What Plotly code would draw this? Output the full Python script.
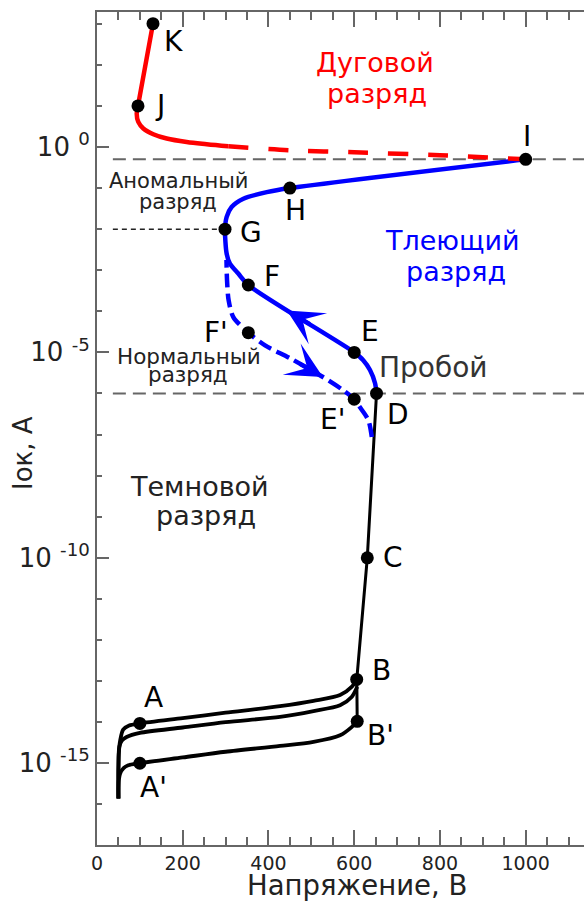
import plotly.graph_objects as go

# ---------------- data (voltage in V, current as log10 exponent) ----------------
dark_upper_v = [50, 50, 51, 54, 61, 75, 100, 200, 300, 427, 505, 567, 594, 606]
dark_upper_e = [-15.86, -15.2, -14.75, -14.45, -14.18, -14.08, -14.03, -13.9, -13.77, -13.61, -13.48, -13.34, -13.14, -12.96]
dark_mid_v = [50, 50, 52, 58, 69, 100, 200, 300, 427, 505, 567, 594, 607]
dark_mid_e = [-15.86, -15.1, -14.6, -14.45, -14.36, -14.26, -14.13, -14.0, -13.87, -13.73, -13.59, -13.39, -13.14]
dark_low_v = [50, 50, 51, 54, 62, 73, 100, 200, 300, 427, 505, 567, 594, 607]
dark_low_e = [-15.86, -15.6, -15.4, -15.25, -15.12, -15.05, -15.0, -14.86, -14.72, -14.58, -14.48, -14.32, -14.12, -13.98]
rise_v = [607, 606, 630.5, 652]
rise_e = [-13.98, -12.96, -10.0, -6.0]

glow_v = [652, 648.6, 636.8, 621, 600, 353, 329.6, 310, 302.5, 298.6, 302.5, 314, 341.5, 396, 450, 1000]
glow_e = [-6.0, -5.75, -5.43, -5.19, -5.0, -3.36, -3.08, -2.84, -2.6, -2.0, -1.7, -1.46, -1.26, -1.1, -1.0, -0.3]
glow_back_v = [641, 633, 613, 600, 574, 527, 450, 392, 353, 318, 307, 303.3, 302]
glow_back_e = [-7.06, -6.65, -6.33, -6.14, -5.92, -5.6, -5.14, -4.83, -4.52, -4.14, -3.73, -3.24, -2.75]

arc_v = [130.6, 95.6, 92.6, 96.3, 108, 131.3, 162.6, 209.2, 255.9, 306.3]
arc_e = [3.0, 1.0, 0.81, 0.61, 0.45, 0.31, 0.205, 0.12, 0.066, 0.017]
arc_dash_v = [306.3, 450, 600, 800, 1000]
arc_dash_e = [0.017, -0.08, -0.13, -0.2, -0.3]

point_labels = ["K", "J", "I", "H", "G", "F", "E", "D", "E'", "F'", "C", "B", "B'", "A", "A'"]
point_v = [130.6, 95.6, 1000, 450, 298.6, 353, 600, 652, 600, 353, 630.5, 605.8, 607, 100, 100]
point_e = [3.0, 1.0, -0.3, -1.0, -2.0, -3.36, -5.0, -6.0, -6.14, -4.52, -10.0, -12.96, -13.98, -14.03, -15.0]

level_breakdown_e = -6.0
level_arc_e = -0.3
level_abnormal_e = -2.0

y_tick_exps = [-15, -10, -5, 0]
y_tick_text = ["10 <sup>-15</sup>", "10 <sup>-10</sup>", "10 <sup>-5</sup>", "10 <sup>0</sup>"]


def cur(es):
    return [10.0 ** e for e in es]


FONT = "DejaVu Sans"
BLUE = "#0000ff"
RED = "#ff0000"
GRAY = "#666666"

fig = go.Figure()

# guide lines
for lev in (level_arc_e, level_breakdown_e):
    fig.add_trace(go.Scatter(x=[37, 1136], y=cur([lev, lev]), mode="lines",
                             line=dict(color=GRAY, width=2, dash="13px,7px"), hoverinfo="skip"))
fig.add_trace(go.Scatter(x=[37, 298.6], y=cur([level_abnormal_e, level_abnormal_e]), mode="lines",
                         line=dict(color="#222222", width=1.5, dash="5px,4px"), hoverinfo="skip"))

# dark discharge
for vv, ee in ((dark_upper_v, dark_upper_e), (dark_mid_v, dark_mid_e), (dark_low_v, dark_low_e)):
    fig.add_trace(go.Scatter(x=vv, y=cur(ee), mode="lines",
                             line=dict(color="black", width=3.8, shape="spline", smoothing=0.8)))
fig.add_trace(go.Scatter(x=rise_v, y=cur(rise_e), mode="lines", line=dict(color="black", width=3)))

# glow discharge
fig.add_trace(go.Scatter(x=glow_back_v, y=cur(glow_back_e), mode="lines",
                         line=dict(color=BLUE, width=4.5, dash="14px,6px", shape="spline", smoothing=0.8)))
fig.add_trace(go.Scatter(x=glow_v, y=cur(glow_e), mode="lines",
                         line=dict(color=BLUE, width=4.5, shape="spline", smoothing=0.8)))

# arc discharge
fig.add_trace(go.Scatter(x=arc_v, y=cur(arc_e), mode="lines",
                         line=dict(color=RED, width=4.5, shape="spline", smoothing=1.0)))
fig.add_trace(go.Scatter(x=arc_dash_v, y=cur(arc_dash_e), mode="lines",
                         line=dict(color=RED, width=4.5, dash="20px,20px", shape="spline", smoothing=0.8)))

# points
fig.add_trace(go.Scatter(x=point_v, y=cur(point_e), mode="markers",
                         marker=dict(color="black", size=13)))

# point labels (pixel offsets)
offsets = {"K": (21, -18), "J": (22, 0), "I": (1, 23), "H": (6, -22), "G": (26, -3), "F": (24, 9),
           "E": (16, 21), "D": (21, -21), "E'": (-22, -20), "F'": (-32, 0), "C": (26, 0),
           "B": (25, 9), "B'": (23, -14), "A": (14, 26), "A'": (14, -24)}
for lab, v, e in zip(point_labels, point_v, point_e):
    dx, dy = offsets[lab]
    fig.add_annotation(x=v, y=e, text=lab, showarrow=False, xshift=dx, yshift=dy,
                       font=dict(size=28, color="black", family=FONT))

# arrows on glow curves
fig.add_annotation(x=443, y=-3.98, ax=500, ay=-4.33, axref="x", ayref="y", xref="x", yref="y",
                   text="", showarrow=True, arrowhead=3, arrowsize=1.5, arrowwidth=4, arrowcolor=BLUE)
fig.add_annotation(x=527, y=-5.6, ax=470, ay=-5.26, axref="x", ayref="y", xref="x", yref="y",
                   text="", showarrow=True, arrowhead=3, arrowsize=1.5, arrowwidth=4, arrowcolor=BLUE)

# region labels
regions = [
    ("Дуговой", 648.5, 2.06, 27, RED), ("разряд", 653, 1.31, 27, RED),
    ("Тлеющий", 830, -2.27, 27, BLUE), ("разряд", 837, -3.03, 27, BLUE),
    ("Аномальный", 189, -0.83, 21, "#222222"), ("разряд", 189, -1.35, 21, "#222222"),
    ("Нормальный", 214.6, -5.09, 21.5, "#222222"), ("разряд", 212, -5.55, 21.5, "#222222"),
    ("Пробой", 784, -5.36, 28, "#333333"),
    ("Темновой", 238, -8.26, 27, "#222222"), ("разряд", 254, -8.96, 27, "#222222"),
]
for txt, v, e, sz, col in regions:
    fig.add_annotation(x=v, y=e, text=txt, showarrow=False,
                       font=dict(size=sz, color=col, family=FONT))

# axis titles
fig.add_annotation(xref="paper", yref="paper", x=0.534, y=-0.048, xanchor="center", yanchor="middle",
                   text="Напряжение, В", showarrow=False,
                   font=dict(size=27.5, color="#222222", family=FONT))
fig.add_annotation(xref="paper", yref="paper", x=-0.152, y=0.4706, xanchor="center", yanchor="middle",
                   text="Iок, А", textangle=-90, showarrow=False,
                   font=dict(size=26, color="#222222", family=FONT))

fig.update_layout(
    width=584, height=904,
    margin=dict(l=97, r=0, t=12, b=59, autoexpand=False),
    paper_bgcolor="white", plot_bgcolor="white",
    showlegend=False,
    font=dict(family=FONT, color="#222222"),
    xaxis=dict(range=[0, 1136], showgrid=False, zeroline=False, showline=True,
               linecolor=GRAY, linewidth=2, mirror="ticks",
               ticks="inside", ticklen=15, tickwidth=2, tickcolor=GRAY,
               tick0=0, dtick=200, tickfont=dict(size=19, color="#222222"),
               minor=dict(dtick=50, tick0=0, ticks="inside", ticklen=8, tickwidth=2, tickcolor=GRAY),
               automargin=False),
    yaxis=dict(type="log", range=[-16.99, 3.285], showgrid=False, zeroline=False, showline=True,
               linecolor=GRAY, linewidth=2,
               ticks="inside", ticklen=12, tickwidth=2, tickcolor=GRAY,
               tickmode="array", tickvals=[10.0 ** k for k in y_tick_exps], ticktext=y_tick_text,
               tickfont=dict(size=26, color="#222222"),
               minor=dict(tickmode="array", tickvals=[10.0 ** k for k in range(-16, 4)],
                          ticks="inside", ticklen=5, tickwidth=2, tickcolor=GRAY),
               automargin=False),
    yaxis2=dict(type="log", range=[-16.99, 3.285], overlaying="y", side="right", anchor="x",
                showgrid=False, zeroline=False, showline=False, showticklabels=False,
                ticks="inside", ticklen=4, tickwidth=2, tickcolor=GRAY,
                tickmode="array", tickvals=[10.0 ** k for k in y_tick_exps]),
)

fig.write_html("out.html", config={"displayModeBar": False},
               post_script="document.body.style.margin='0';document.body.style.overflow='hidden';")
